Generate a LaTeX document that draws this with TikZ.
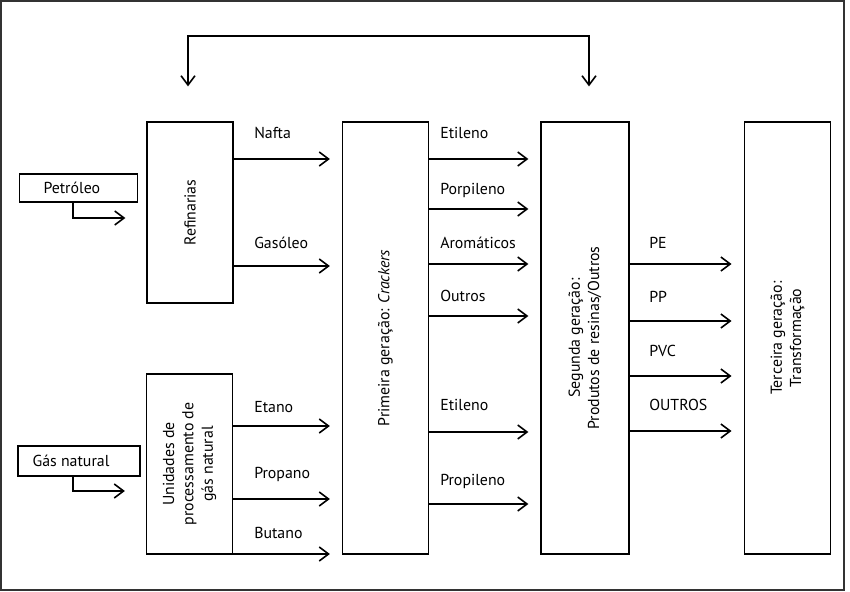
\documentclass[tikz,border=0pt]{standalone}
\usepackage{fontspec}
\setmainfont{PT Sans}
\usetikzlibrary{arrows.meta}

\begin{document}
\begin{tikzpicture}[x=0.75pt,y=-0.75pt]
    \tikzstyle{every node}=[font=\fontsize{11.9}{14.5}\selectfont]
    \tikzstyle{box}=[draw, line width=0.9pt, inner sep=0pt]
    \tikzstyle{stage}=[box, minimum width=64.5pt]
    \tikzstyle{vtext}=[rotate=90, align=center, inner sep=0pt]
    \tikzstyle{flow}=[line width=0.9pt, -{Straight Barb[length=7pt,width=10.5pt,line width=1.2pt]}, shorten >=9pt]
    \tikzstyle{lbl}=[anchor=mid west, inner sep=0pt]

    \useasboundingbox (0,0) rectangle (850,592);
    \draw[line width=1.1pt, black!80] (1,1) rectangle (844,590);

    % sources
    \node[box, minimum width=89pt, minimum height=21pt] (petroleo) at (78.5,188) {Petróleo\hspace*{10pt}};
    \node[box, minimum width=91.5pt, minimum height=22.5pt] (gas) at (79,461) {Gás natural\hspace*{12pt}};

    % stages
    \node[stage, minimum height=135.75pt] (refinarias) at (190,212.5) {};
    \node[stage, minimum height=135pt] (upgn) at (189.5,464) {};
    \node[stage, minimum height=324pt] (primeira) at (385.5,338) {};
    \node[stage, minimum width=66pt, minimum height=324pt] (segunda) at (585,338) {};
    \node[stage, minimum width=65pt, minimum height=324pt] (terceira) at (787.5,338) {};

    \node[vtext] (refinarias-t) at (refinarias) {Refinarias};
    \node[vtext] (upgn-t) at (upgn) {Unidades de\\processamento de\\gás natural};
    \node[vtext] (primeira-t) at (primeira) {Primeira geração: \textit{Crackers}};
    \node[vtext] (segunda-t) at (segunda) {Segunda geração:\\Produtos de resinas/Outros};
    \node[vtext] (terceira-t) at (terceira) {Terceira geração:\\Transformação};

    % feed arrows
    \draw[flow, shorten >=15.75pt] (petroleo.south -| 73,0) |- (refinarias.west |- 0,218);
    \draw[flow, shorten >=15.75pt] (gas.south -| 73,0) |- (upgn.west |- 0,491);

    % loop on top
    \coordinate (loopL) at (188,36);
    \coordinate (loopR) at (589,36);
    \draw[line width=0.9pt, {Straight Barb[length=7pt,width=10.5pt,line width=1.2pt]}-{Straight Barb[length=7pt,width=10.5pt,line width=1.2pt]}, shorten <=26.25pt, shorten >=26.25pt]
        (loopL |- refinarias.north) -- (loopL) -- (loopR) -- (loopR |- segunda.north);

    % refinarias -> primeira
    \draw[flow] (refinarias.east |- 0,159) -- (primeira.west |- 0,159);
    \draw[flow] (refinarias.east |- 0,266) -- (primeira.west |- 0,266);
    \node[lbl] (nafta) at (254,135) {Nafta};
    \node[lbl] (gasoleo) at (254,245) {Gasóleo};

    % upgn -> primeira
    \draw[flow] (upgn.east |- 0,426) -- (primeira.west |- 0,426);
    \draw[flow] (upgn.east |- 0,499) -- (primeira.west |- 0,499);
    \draw[flow] (upgn.east |- 0,554) -- (primeira.west |- 0,554);
    \node[lbl] (etano) at (254,409) {Etano};
    \node[lbl] (propano) at (254,475) {Propano};
    \node[lbl] (butano) at (254,535) {Butano};

    % primeira -> segunda
    \foreach \y in {159,209,264,316,432,504}
        \draw[flow] (primeira.east |- 0,\y) -- (segunda.west |- 0,\y);
    \node[lbl] (etileno-a) at (440,135) {Etileno};
    \node[lbl] (porpileno) at (440,191) {Porpileno};
    \node[lbl] (aromaticos) at (440,245) {Aromáticos};
    \node[lbl] (outros) at (440,298) {Outros};
    \node[lbl] (etileno-b) at (440,407) {Etileno};
    \node[lbl] (propileno) at (440,482) {Propileno};

    % segunda -> terceira
    \foreach \y in {264,321,376,431}
        \draw[flow] (segunda.east |- 0,\y) -- (terceira.west |- 0,\y);
    \node[lbl] (pe) at (649,245) {PE};
    \node[lbl] (pp) at (649,299) {PP};
    \node[lbl] (pvc) at (649,353) {PVC};
    \node[lbl] (outros-b) at (649,407) {OUTROS};

\end{tikzpicture}
\end{document}
